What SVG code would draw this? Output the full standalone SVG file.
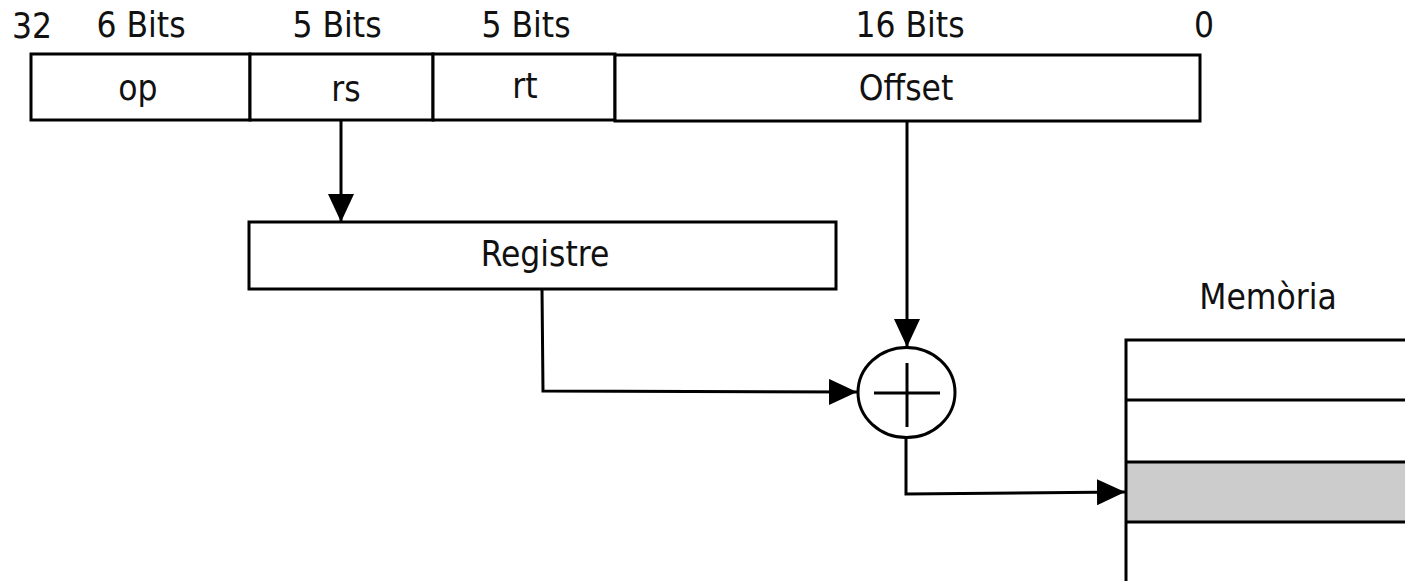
<svg xmlns="http://www.w3.org/2000/svg" width="1405" height="581" viewBox="0 0 1405 581">
<style>
.box{fill:#fff;stroke:#000;stroke-width:3}
.frame{fill:none;stroke:#000;stroke-width:3}
.ln{fill:none;stroke:#000;stroke-width:3}
.t{font-family:"DejaVu Sans Condensed","DejaVu Sans",sans-serif;font-stretch:condensed;font-size:35px;fill:#111;text-anchor:middle}
</style>
<defs>
<marker id="ah" viewBox="0 0 28 26" refX="28" refY="13" markerWidth="28" markerHeight="26" markerUnits="userSpaceOnUse" orient="auto">
<path d="M0,0 L28,13 L0,26 Z" fill="#000"/>
</marker>
</defs>
<rect width="1405" height="581" fill="#fff"/>
<g id="bit-labels">
<text class="t" x="32" y="38">32</text>
<text class="t" x="141" y="37">6 Bits</text>
<text class="t" x="337" y="37">5 Bits</text>
<text class="t" x="526" y="37">5 Bits</text>
<text class="t" x="910" y="37">16 Bits</text>
<text class="t" x="1204" y="37">0</text>
</g>
<g id="field-op">
<rect class="box" x="31" y="54" width="219" height="66"/>
<text class="t" x="138" y="100">op</text>
</g>
<g id="field-rs">
<rect class="box" x="250" y="54" width="183" height="66"/>
<text class="t" x="346" y="101">rs</text>
</g>
<g id="field-rt">
<rect class="box" x="433" y="54" width="182" height="66"/>
<text class="t" x="525" y="98">rt</text>
</g>
<g id="field-offset">
<rect class="box" x="615" y="55" width="585" height="66"/>
<text class="t" x="906" y="100">Offset</text>
</g>
<g id="registre">
<rect class="box" x="249" y="222" width="587" height="67"/>
<text class="t" x="545" y="266">Registre</text>
</g>
<g id="adder">
<ellipse class="box" cx="906.5" cy="392.5" rx="48.5" ry="45"/>
<line class="ln" x1="874" y1="393" x2="940" y2="393"/>
<line class="ln" x1="907" y1="363" x2="907" y2="427"/>
</g>
<g id="memoria">
<text class="t" x="1268" y="309">Memòria</text>
<rect x="1126" y="462" width="290" height="60" fill="#cccccc"/>
<rect class="frame" x="1126" y="340" width="400" height="400"/>
<line class="ln" x1="1126" y1="400" x2="1405" y2="400"/>
<line class="ln" x1="1126" y1="462" x2="1405" y2="462"/>
<line class="ln" x1="1126" y1="522" x2="1405" y2="522"/>
</g>
<g id="connectors">
<path class="ln" d="M341,120 L341,222" marker-end="url(#ah)"/>
<path class="ln" d="M907,121 L907,347" marker-end="url(#ah)"/>
<path class="ln" d="M542,289 L543,391 L857,392" marker-end="url(#ah)"/>
<path class="ln" d="M906,437 L906,494 L1125,492" marker-end="url(#ah)"/>
</g>
</svg>
